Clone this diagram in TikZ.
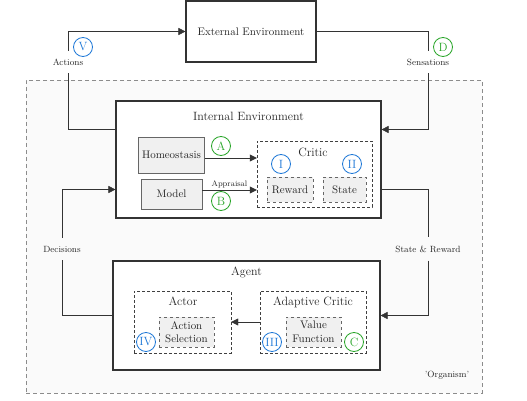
\documentclass[tikz,border=0pt,11pt]{standalone}
\usepackage{tikz}
\usetikzlibrary{shapes.geometric, arrows.meta}
\definecolor{numblue}{RGB}{30,120,215}
\definecolor{letgreen}{RGB}{40,165,40}
\tikzstyle{envbox} = [rectangle, draw=black!80, line width=1.1pt, fill=white, text=black!85]
\tikzstyle{module} = [rectangle, draw=black!75, densely dashed, text=black!85, font=\large]
\tikzstyle{process} = [rectangle, draw=black!60, fill=black!6, text=black!85, align=center]
\tikzstyle{subprocess} = [rectangle, draw=black!60, dashed, fill=black!6, text=black!85, align=center]
\tikzstyle{flowlabel} = [font=\footnotesize, text=black!85, inner xsep=2pt, inner ysep=8pt]
\tikzstyle{numcircle} = [circle, draw=numblue, line width=0.8pt, text=numblue, minimum size=19pt, inner sep=0pt, font=\large]
\tikzstyle{letcircle} = [circle, draw=letgreen, line width=0.8pt, text=letgreen, minimum size=19pt, inner sep=0pt, font=\large]
\tikzstyle{arrow} = [black!80, -{Triangle[length=7pt, width=7pt]}]
\tikzstyle{line} = [black!80]

\begin{document}
\begin{tikzpicture}[x=1pt, y=-1pt]
\useasboundingbox (0,0) rectangle (527,401);

% Organism
\node (organism) [rectangle, draw=black!45, dash pattern=on 4pt off 3pt, line width=0.8pt, fill=black!2, minimum width=456pt, minimum height=313pt] at (254,236.5) {};
\node (organism_txt) [font=\footnotesize, text=black!85] at (447,375) {'Organism'};

% Nodes
\node (ext) [envbox, minimum width=130pt, minimum height=61pt] at (251,31.5) {External Environment};
\node (int) [envbox, minimum width=265pt, minimum height=117pt] at (248.5,159.5) {};
\node (int_title) [font=\large, text=black!85] at (248.5,116) {Internal Environment};
\node (agent) [envbox, minimum width=267pt, minimum height=109pt] at (246.5,315.5) {};
\node (agent_title) [font=\large, text=black!85] at (246.5,272) {Agent};

% Internal environment
\node (homeo) [process, minimum width=61pt, minimum height=36pt] at (171.5,155) {Homeostasis};
\node (model) [process, minimum width=61pt, minimum height=30pt] at (171.5,194) {Model};
\node (critic) [module, minimum width=115pt, minimum height=66pt] at (314.5,174) {};
\node (critic_title) [font=\large, text=black!85] at (313,152) {Critic};
\node (reward) [subprocess, minimum width=46pt, minimum height=25pt] at (290,189.5) {Reward};
\node (state) [subprocess, minimum width=43pt, minimum height=25pt] at (344.5,189.5) {State};

% Agent
\node (actor) [module, minimum width=97pt, minimum height=62pt] at (182.5,322) {};
\node (actor_title) [font=\large, text=black!85] at (183,301) {Actor};
\node (actsel) [subprocess, minimum width=55pt, minimum height=30pt, inner sep=1pt] at (186.5,332) {Action\\Selection};
\node (adcritic) [module, minimum width=106pt, minimum height=62pt] at (313,322) {};
\node (adcritic_title) [font=\large, text=black!85] at (313,302) {Adaptive Critic};
\node (valfn) [subprocess, minimum width=55pt, minimum height=30pt, inner sep=1pt] at (313.5,332) {Value\\Function};

% Flow labels
\node (actions) [flowlabel] at (68,62) {Actions};
\node (sens) [flowlabel] at (428,62) {Sensations};
\node (decisions) [flowlabel] at (62,249) {Decisions};
\node (statereward) [flowlabel] at (428,249) {State \& Reward};

% Circled marks
\node (mark_v) [numcircle] at (83,47) {V};
\node (mark_d) [letcircle] at (443,47) {D};
\node (mark_a) [letcircle] at (221,146) {A};
\node (mark_b) [letcircle] at (221,201) {B};
\node (mark_i) [numcircle] at (281,164) {I};
\node (mark_ii) [numcircle] at (352,164) {II};
\node (mark_iv) [numcircle] at (146,342) {IV};
\node (mark_iii) [numcircle] at (272,342) {III};
\node (mark_c) [letcircle] at (354,342) {C};

% Arrows
\draw [arrow] (actions) |- (ext.west);
\draw [line] (actions) |- ([yshift=30pt]int.west);
\draw [line] (ext.east) -| (sens);
\draw [arrow] (sens) |- ([yshift=30pt]int.east);

\draw [arrow] ([yshift=-3pt]homeo.east) -- ([yshift=-3pt]homeo.east -| critic.west);
\draw [arrow] ([yshift=4pt]model.east) -- node[above, font=\scriptsize, text=black!85, inner sep=1.5pt] {Appraisal} ([yshift=4pt]model.east -| critic.west);

% Decisions and state flow
\draw [line] (agent.west) -| (decisions);
\draw [arrow] (decisions) |- ([yshift=-30pt]int.west);
\draw [line] ([yshift=-30pt]int.east) -| (statereward);
\draw [arrow] (statereward) |- (agent.east);

\draw [arrow] (adcritic.west) -- (actor.east);

\end{tikzpicture}
\end{document}
